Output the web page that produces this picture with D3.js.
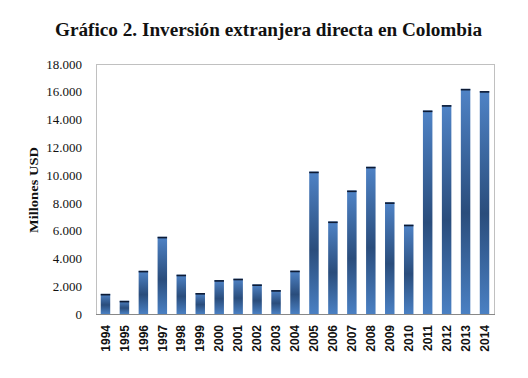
<!DOCTYPE html>
<html><head><meta charset="utf-8">
<script src="https://cdn.jsdelivr.net/npm/d3@7"></script>
<style>body{margin:0;background:#fff}svg{display:block}</style>
</head><body>
<svg id="c" width="528" height="378"></svg>
<script>
const years = ["1994","1995","1996","1997","1998","1999","2000","2001","2002","2003","2004","2005","2006","2007","2008","2009","2010","2011","2012","2013","2014"];
const ied = [1450,950,3110,5560,2830,1510,2440,2540,2130,1720,3120,10250,6660,8890,10600,8040,6430,14650,15040,16210,16050];
const yTicks = [0,2000,4000,6000,8000,10000,12000,14000,16000,18000];
const titleText = "Gráfico 2. Inversión extranjera directa en Colombia";
const yTitle = "Millones USD";

const svg = d3.select("#c");
const m = {l:96, r:494, t:64, b:314};
const x = d3.scaleBand().domain(years).range([m.l, m.r]).paddingInner(0.5).paddingOuter(0.25);
const y = d3.scaleLinear().domain([0,18000]).range([m.b, m.t]);

const defs = svg.append("defs");
const g = defs.append("linearGradient").attr("id","bg").attr("x1",0).attr("y1",0).attr("x2",0).attr("y2",1);
g.append("stop").attr("offset","0%").attr("stop-color","#4f83c6");
g.append("stop").attr("offset","55%").attr("stop-color","#2a4d7c");
g.append("stop").attr("offset","100%").attr("stop-color","#4a80c3");

// plot frame
svg.append("rect").attr("x",m.l+0.5).attr("y",m.t+0.5).attr("width",m.r-m.l).attr("height",m.b-m.t)
  .attr("fill","none").attr("stroke","#c0c0c0").attr("stroke-width",1);

// bars
svg.append("g").selectAll("rect").data(years).join("rect")
  .attr("x",d=>x(d)).attr("width",x.bandwidth())
  .attr("y",(d,i)=>y(ied[i])).attr("height",(d,i)=>y(0)-y(ied[i]))
  .attr("fill","url(#bg)");
// dark top caps
svg.append("g").selectAll("rect").data(years).join("rect")
  .attr("x",d=>x(d)).attr("width",x.bandwidth())
  .attr("y",(d,i)=>y(ied[i])).attr("height",1.6)
  .attr("fill","#0d1a33");

// bottom axis line
svg.append("line").attr("x1",m.l).attr("x2",m.r+1).attr("y1",m.b+0.5).attr("y2",m.b+0.5)
  .attr("stroke","#888").attr("stroke-width",1.2);

// y axis labels
const yAxis = d3.axisLeft(y).tickValues(yTicks).tickSize(0).tickPadding(0)
  .tickFormat(d=>d3.format(",")(d).replace(/,/g,"."));
const ya = svg.append("g").attr("transform","translate(82,0)").call(yAxis);
ya.select(".domain").remove();
ya.selectAll("text").attr("font-family","'Liberation Serif', serif").attr("font-size",13).attr("fill","#111");

// x axis labels
const xAxis = d3.axisBottom(x).tickSize(0).tickPadding(0);
const xa = svg.append("g").attr("transform",`translate(0,${m.b})`).call(xAxis);
xa.select(".domain").remove();
xa.selectAll("text").attr("font-family","'Liberation Sans', Arial, sans-serif").attr("font-size",12)
  .attr("font-weight","bold").attr("fill","#111")
  .attr("transform","rotate(-90)").attr("text-anchor","end").attr("dy","0.35em").attr("x",-11).attr("y",0);

// title
svg.append("text").attr("x",268.5).attr("y",36).attr("text-anchor","middle")
  .attr("font-family","'Liberation Serif', serif").attr("font-weight","bold").attr("font-size",18)
  .attr("textLength",427).attr("lengthAdjust","spacingAndGlyphs").attr("fill","#111").text(titleText);

// y title
svg.append("text").attr("transform","translate(38,190) rotate(-90)").attr("text-anchor","middle")
  .attr("font-family","'Liberation Serif', serif").attr("font-weight","bold").attr("font-size",13.5)
  .attr("textLength",86).attr("lengthAdjust","spacingAndGlyphs").attr("fill","#111").text(yTitle);
</script>
</body></html>
